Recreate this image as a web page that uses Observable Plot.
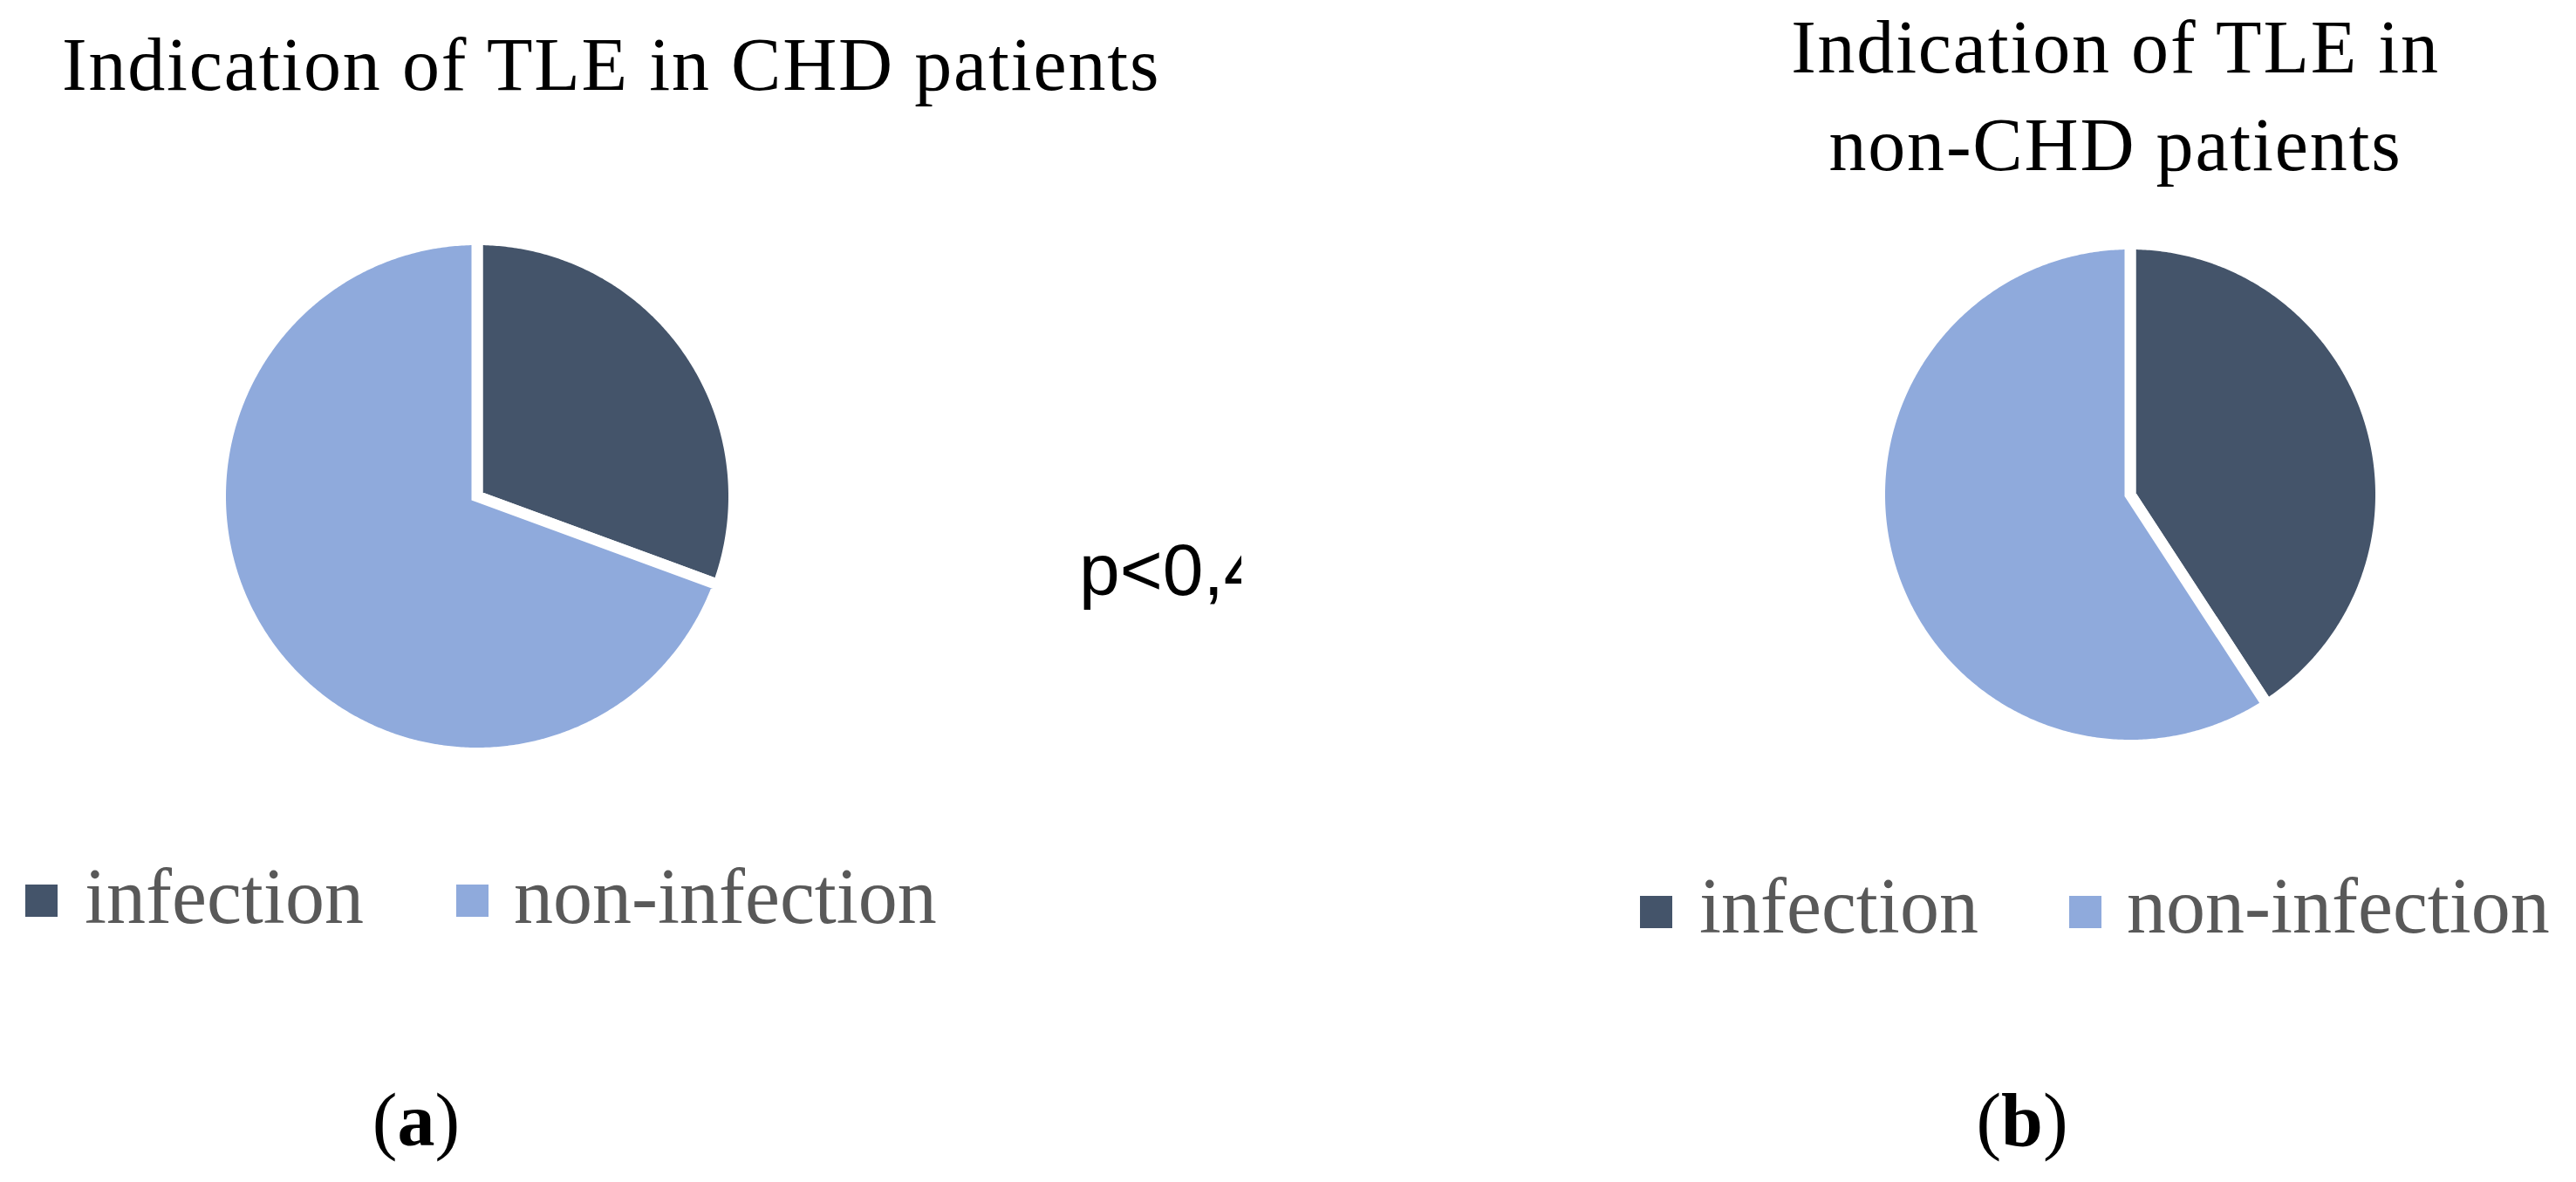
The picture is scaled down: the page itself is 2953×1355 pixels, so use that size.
<!DOCTYPE html>
<html>
<head>
<meta charset="utf-8">
<script src="https://cdn.jsdelivr.net/npm/d3@7"></script>
<script src="https://cdn.jsdelivr.net/npm/@observablehq/plot@0.6"></script>
<style>
  html, body { margin: 0; padding: 0; background: #ffffff; overflow: hidden; }
  #stage { position: relative; width: 2953px; height: 1355px; background: #ffffff; }
  .pie { position: absolute; }
  .pie svg { display: block; }
  #overlay { position: absolute; left: 0; top: 0; }
</style>
</head>
<body>
<div id="stage"></div>
<script>
// ---- data ----
const categories = ["infection", "non-infection"];
const chdShares = [30.6, 69.4];       // % of TLE indications, CHD patients
const nonChdShares = [40.8, 59.2];    // % of TLE indications, non-CHD patients
const sliceColors = ["#44546A", "#8FAADC"];
const titleA = ["Indication of TLE in CHD patients"];
const titleB = ["Indication of TLE in", "non-CHD patients"];
const panelLabels = ["a", "b"];
const pValueText = "p<0,4";

// ---- layout (pixels) ----
const W = 2953, H = 1355;
const STROKE = 13;
const panels = [
  {values: chdShares, cx: 546, cy: 568, r: 288},
  {values: nonChdShares, cx: 2441, cy: 566, r: 281}
];

// slice outlines derived from the shares through d3.pie (clockwise from 12 o'clock)
function slicePolygons(values) {
  const arcs = d3.pie().sort(null).value(d => d)(values);
  const rows = [];
  arcs.forEach((a, i) => {
    const category = categories[i];
    rows.push({category, x: 0, y: 0});
    const n = Math.max(2, Math.ceil((a.endAngle - a.startAngle) / (Math.PI / 360)));
    for (let k = 0; k <= n; k++) {
      const t = a.startAngle + (a.endAngle - a.startAngle) * k / n;
      rows.push({category, x: Math.sin(t), y: Math.cos(t)});
    }
  });
  return rows;
}

const stage = document.getElementById("stage");

panels.forEach(p => {
  const rUnit = p.r + STROKE / 2;
  const half = rUnit + 12;
  const k = half / rUnit;
  const chart = Plot.plot({
    width: 2 * half,
    height: 2 * half,
    margin: 0,
    style: {background: "transparent", overflow: "visible"},
    x: {domain: [-k, k], axis: null},
    y: {domain: [-k, k], axis: null},
    color: {domain: categories, range: sliceColors},
    marks: [
      Plot.line(slicePolygons(p.values), {
        x: "x", y: "y", z: "category",
        fill: "category",
        stroke: "white",
        strokeWidth: STROKE,
        strokeLinejoin: "miter",
        strokeMiterlimit: 10,
        curve: "linear-closed"
      })
    ]
  });
  const div = document.createElement("div");
  div.className = "pie";
  div.style.left = (p.cx - half) + "px";
  div.style.top = (p.cy - half) + "px";
  div.appendChild(chart);
  stage.appendChild(div);
});

// ---- text overlay: titles, legends, panel labels, p-value ----
const svg = d3.select(stage).append("svg")
  .attr("id", "overlay")
  .attr("width", W).attr("height", H);

const serif = "'Liberation Serif', 'Times New Roman', serif";

// title (a)
svg.append("text")
  .attr("x", 71).attr("y", 103)
  .attr("font-family", serif).attr("font-size", 86)
  .attr("letter-spacing", "1.8px")
  .attr("fill", "#000")
  .text(titleA[0]);

// title (b), two centred lines
titleB.forEach((line, i) => {
  svg.append("text")
    .attr("x", 2425).attr("y", 83 + i * 112)
    .attr("text-anchor", "middle")
    .attr("font-family", serif).attr("font-size", 86)
    .attr("letter-spacing", "1.8px")
    .attr("fill", "#000")
    .text(line);
});

// legends
const legends = [
  {swatchX: [29, 523], textX: [97, 589], swatchY: 1014, baseline: 1058},
  {swatchX: [1880, 2372], textX: [1948, 2438], swatchY: 1027, baseline: 1069}
];
legends.forEach(lg => {
  categories.forEach((c, i) => {
    svg.append("rect")
      .attr("x", lg.swatchX[i]).attr("y", lg.swatchY)
      .attr("width", 37).attr("height", 37)
      .attr("fill", sliceColors[i]);
    svg.append("text")
      .attr("x", lg.textX[i]).attr("y", lg.baseline)
      .attr("font-family", serif).attr("font-size", 90)
      .attr("fill", "#595959")
      .text(c);
  });
});

// panel labels (a) (b)
[477, 2318].forEach((cx, i) => {
  const t = svg.append("text")
    .attr("x", cx).attr("y", 1313)
    .attr("text-anchor", "middle")
    .attr("font-family", serif).attr("font-size", 86)
    .attr("fill", "#000");
  t.append("tspan").text("(");
  t.append("tspan").attr("font-weight", "bold").text(panelLabels[i]);
  t.append("tspan").text(")");
});

// p-value text box, clipped on the right like the original
const clip = svg.append("svg")
  .attr("x", 1200).attr("y", 560)
  .attr("width", 223).attr("height", 160)
  .style("overflow", "hidden");
clip.append("text")
  .attr("x", 37).attr("y", 122)
  .attr("font-family", "'Liberation Sans', Arial, sans-serif")
  .attr("font-size", 84)
  .attr("fill", "#000")
  .text(pValueText);
</script>
</body>
</html>
